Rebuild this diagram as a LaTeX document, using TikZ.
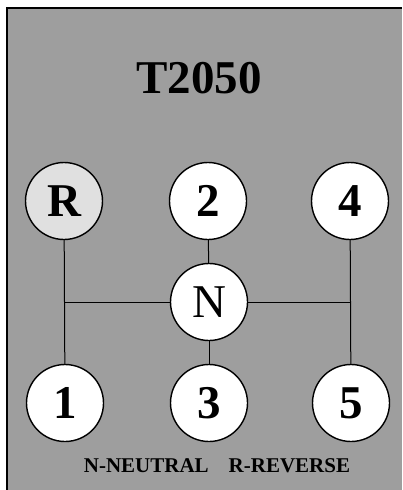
\documentclass[tikz,border=0pt]{standalone}
\usepackage{fontspec}
\setmainfont{Liberation Serif}
\usepackage{tikz}

\begin{document}
\begin{tikzpicture}[x=1pt,y=-1pt,
  gear/.style={circle,draw,line width=1.4pt,fill=white,minimum size=77pt,
    inner sep=0pt,font=\fontsize{47}{47}\selectfont\bfseries},
  shaft/.style={line width=1pt}]
  \useasboundingbox (0,0) rectangle (402,490);
  % shaded plate and its frame
  \fill[black!38] (7,8) rectangle (402,490);
  \draw[line width=1.6pt] (7,490) -- (7,8) -- (402,8);
  \node[font=\fontsize{47}{47}\selectfont\bfseries] (title) at (199,78) {T2050};
  % shift positions
  \node[gear,fill=black!12] (nR) at (64,201) {R};
  \node[gear] (n2) at (208,201) {2};
  \node[gear] (n4) at (350,201) {4};
  \node[gear,font=\fontsize{47}{47}\selectfont] (nN) at (209,302) {N};
  \node[gear] (n1) at (65,403) {1};
  \node[gear] (n3) at (209,403) {3};
  \node[gear] (n5) at (351,403) {5};
  \coordinate (jL) at (64,302);
  \coordinate (jR) at (350,302);
  \draw[shaft] (nR) -- (n1);
  \draw[shaft] (n4) -- (n5);
  \draw[shaft] (n2) -- (nN);
  \draw[shaft] (nN) -- (n3);
  \draw[shaft] (nN) -- (jL);
  \draw[shaft] (nN) -- (jR);
  \node[font=\fontsize{21}{21}\selectfont\bfseries] (key) at (217,466)
        {N-NEUTRAL\hspace{20pt}R-REVERSE};
\end{tikzpicture}
\end{document}
